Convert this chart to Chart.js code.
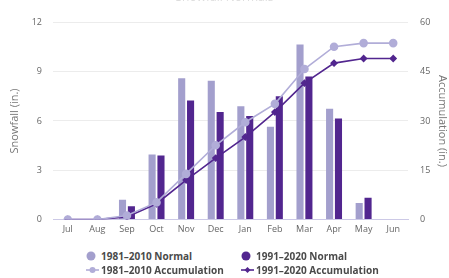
<!DOCTYPE html>
<html>
<head>
<meta charset="utf-8">
<script src="https://cdn.jsdelivr.net/npm/chart.js@4/dist/chart.umd.min.js"></script>
<style>
  html, body { margin: 0; padding: 0; background: #fff; overflow: hidden; }
  body { width: 449px; height: 278px; position: relative; font-family: 'Open Sans', sans-serif; }
  .wrap { position: absolute; left: 0; top: -14px; width: 449px; height: 258px; }
  .legend { position: absolute; top: 249px; left: 0; width: 449px; font-size: 10px; font-weight: bold; color: #4a4a4a; }
  .legend .item { position: absolute; white-space: nowrap; display: flex; align-items: center; height: 13px; }
  .legend .mark { width: 13px; height: 10px; margin-right: 2px; }
</style>
</head>
<body>
<div class="wrap"><canvas id="myChart"></canvas></div>
<div class="legend" id="legend"></div>
<script>
// months of the snow season
const months = ['Jul', 'Aug', 'Sep', 'Oct', 'Nov', 'Dec', 'Jan', 'Feb', 'Mar', 'Apr', 'May', 'Jun'];

// monthly normals, inches
const normal8110 = [0, 0, 1.2, 3.95, 8.6, 8.45, 6.9, 5.65, 10.65, 6.75, 1.0, 0];
const normal9120 = [0, 0, 0.8, 3.9, 7.25, 6.55, 6.3, 7.5, 8.7, 6.15, 1.33, 0];

// running totals, inches
const accum8110 = [0, 0, 1.2, 5.2, 13.9, 22.6, 29.6, 35.2, 45.8, 52.6, 53.7, 53.7];
const accum9120 = [0, 0, 0.8, 4.8, 12.0, 18.7, 25.1, 32.7, 41.5, 47.6, 49.0, 49.0];

const leftTicks = [0, 3, 6, 9, 12];
const rightTicks = [0, 15, 30, 45, 60];

const lightColor = '#a39fcd';
const darkColor = '#52268f';
const lightLine = '#b1add8';

const ctx = document.getElementById('myChart').getContext('2d');

function barSet(label, data, color) {
  return {
    type: 'bar',
    label,
    data,
    backgroundColor: color,
    yAxisID: 'y',
    order: 2,
    barPercentage: 0.8,
    categoryPercentage: 0.6,
  };
}

function lineSet(label, data, color, style, radius) {
  return {
    type: 'line',
    label,
    data,
    borderColor: color,
    backgroundColor: color,
    borderWidth: 1.6,
    pointStyle: style,
    pointRadius: radius,
    pointHoverRadius: radius,
    tension: 0,
    yAxisID: 'y2',
    order: 1,
  };
}

const tickFont = { family: 'Open Sans', size: 9 };

const myChart = new Chart(ctx, {
  data: {
    labels: months,
    datasets: [
      barSet('1981–2010 Normal', normal8110, lightColor),
      barSet('1991–2020 Normal', normal9120, darkColor),
      lineSet('1981–2010 Accumulation', accum8110, lightLine, 'circle', 3.5),
      lineSet('1991–2020 Accumulation', accum9120, darkColor, 'rectRot', 2.8),
    ],
  },
  options: {
    responsive: true,
    maintainAspectRatio: false,
    animation: false,
    layout: { padding: 0 },
    plugins: {
      legend: { display: false },
      tooltip: { enabled: false },
      title: {
        display: true,
        text: 'Snowfall Normals',
        color: '#ddd',
        font: { family: 'Open Sans', size: 12, weight: 'normal' },
        padding: { top: 4, bottom: 18 },
      },
    },
    scales: {
      x: {
        offset: true,
        grid: { display: false, drawTicks: false },
        border: { display: true, color: '#ccc9e6', width: 1 },
        ticks: { color: '#666', font: tickFont, padding: 5, maxRotation: 0 },
        afterFit: s => { s.height = 24.5; },
      },
      y: {
        position: 'left',
        min: 0,
        max: 12,
        afterBuildTicks: axis => { axis.ticks = leftTicks.map(v => ({ value: v })); },
        grid: { color: '#ececec', drawTicks: false },
        border: { display: false },
        ticks: { color: '#666', font: tickFont, padding: 11 },
        title: { display: true, text: 'Snowfall (in.)', color: '#777', font: { family: 'Open Sans', size: 11 }, padding: { top: 8, bottom: 0 } },
        afterFit: s => { s.width = 53; },
      },
      y2: {
        position: 'right',
        min: 0,
        max: 60,
        afterBuildTicks: axis => { axis.ticks = rightTicks.map(v => ({ value: v })); },
        grid: { display: false, drawTicks: false },
        border: { display: false },
        ticks: { color: '#666', font: tickFont, padding: 12 },
        title: { display: true, text: 'Accumulation (in.)', color: '#777', font: { family: 'Open Sans', size: 11 }, padding: { top: 0, bottom: 2 } },
        afterFit: s => { s.width = 41; },
      },
    },
  },
});

// html legend built from the chart's datasets, two columns
const legendBox = document.getElementById('legend');
const legendPos = [[86, 0], [241, 0], [86, 14], [241, 14]];
myChart.data.datasets.forEach((ds, i) => {
  const item = document.createElement('div');
  item.className = 'item';
  item.style.left = legendPos[i][0] + 'px';
  item.style.top = legendPos[i][1] + 'px';
  const mark = document.createElement('canvas');
  mark.width = 13;
  mark.height = 10;
  mark.className = 'mark';
  const m = mark.getContext('2d');
  m.fillStyle = ds.backgroundColor;
  m.strokeStyle = ds.borderColor || ds.backgroundColor;
  if (ds.type === 'bar') {
    m.beginPath();
    m.arc(5, 5, 4.5, 0, Math.PI * 2);
    m.fill();
  } else {
    m.lineWidth = 1.6;
    m.beginPath();
    m.moveTo(0, 5);
    m.lineTo(13, 5);
    m.stroke();
    m.beginPath();
    if (ds.pointStyle === 'circle') {
      m.arc(6.5, 5, 3, 0, Math.PI * 2);
    } else {
      m.moveTo(6.5, 2); m.lineTo(9.5, 5); m.lineTo(6.5, 8); m.lineTo(3.5, 5); m.closePath();
    }
    m.fill();
  }
  item.appendChild(mark);
  const txt = document.createElement('span');
  txt.textContent = ds.label;
  item.appendChild(txt);
  legendBox.appendChild(item);
});
</script>
</body>
</html>
